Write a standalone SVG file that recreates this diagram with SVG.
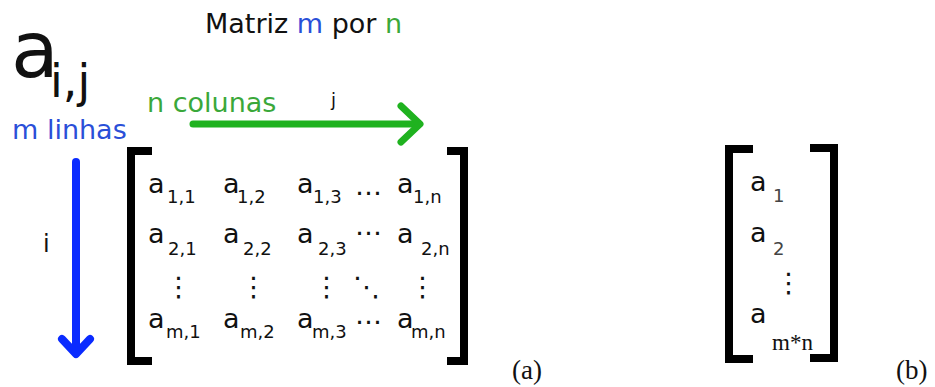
<svg xmlns="http://www.w3.org/2000/svg" width="935" height="387" viewBox="0 0 935 387">
<style>
text{font-family:"DejaVu Sans","Noto Sans",sans-serif;fill:#111}
.a{font-size:27px}
.s{font-size:18px}
.lbl{font-size:27px}
.blue{fill:#2a4fd8}
.green{fill:#3aa83a}
.br{fill:none;stroke:#000;stroke-width:8;stroke-linecap:butt;stroke-linejoin:miter}
.cap{font-family:"Liberation Serif","Times New Roman",serif;font-size:27px}
.serif{font-family:"Liberation Serif","Times New Roman",serif;font-size:23px}
</style>
<rect width="935" height="387" fill="#fff"/>
<g id="title">
<text class="lbl" x="205" y="33">Matriz <tspan class="blue">m</tspan> por <tspan class="green">n</tspan></text>
</g>
<g id="aij">
<text x="11" y="77" font-size="78">a<tspan x="50" y="97" font-size="46">i,j</tspan></text>
</g>
<g id="m-linhas"><text class="lbl blue" x="12" y="139">m linhas</text></g>
<g id="n-colunas"><text class="lbl green" x="147" y="112">n colunas</text></g>
<g id="label-j"><text x="331" y="106" font-size="18">j</text></g>
<g id="label-i"><text x="43" y="252" font-size="24">i</text></g>
<g id="connectors">
<g fill="none" stroke="#1fb21f" stroke-width="7" stroke-linecap="round" stroke-linejoin="round">
<line x1="193" y1="124" x2="418" y2="124"/>
<polyline points="401,106 420,124 401,142"/>
</g>
<g fill="none" stroke="#0a2bff" stroke-width="8" stroke-linecap="round" stroke-linejoin="round">
<line x1="76" y1="162" x2="76" y2="352"/>
<polyline points="62,339 76,354 90,339"/>
</g>
</g>
<g id="matrix">
<path class="br" d="M152,151 H131 V361 H152"/>
<path class="br" d="M447,151 H464 V361 H447"/>
<text class="a" x="148" y="193">a</text><text class="s" x="167" y="203">1,1</text>
<text class="a" x="223" y="193">a</text><text class="s" x="237" y="203">1,2</text>
<text class="a" x="297" y="193">a</text><text class="s" x="313" y="203">1,3</text>
<text class="a" x="355" y="195">…</text>
<text class="a" x="397" y="193">a</text><text class="s" x="413" y="203">1,n</text>

<text class="a" x="148" y="243">a</text><text class="s" x="168" y="255">2,1</text>
<text class="a" x="223" y="243">a</text><text class="s" x="243" y="255">2,2</text>
<text class="a" x="297" y="243">a</text><text class="s" x="318" y="255">2,3</text>
<text class="a" x="355" y="235">…</text>
<text class="a" x="397" y="243">a</text><text class="s" x="421" y="255">2,n</text>

<text class="a" x="165" y="296">⋮</text>
<text class="a" x="240" y="296">⋮</text>
<text class="a" x="313" y="296">⋮</text>
<text class="a" x="353" y="296">⋱</text>
<text class="a" x="409" y="296">⋮</text>

<text class="a" x="148" y="328">a</text><text class="s" x="166" y="338">m,1</text>
<text class="a" x="223" y="328">a</text><text class="s" x="240" y="338">m,2</text>
<text class="a" x="297" y="328">a</text><text class="s" x="312" y="338">m,3</text>
<text class="a" x="355" y="324">…</text>
<text class="a" x="397" y="328">a</text><text class="s" x="411" y="338">m,n</text>
</g>
<g id="vector">
<path class="br" d="M753,149 H729 V359 H753"/>
<path class="br" d="M810,148 H834 V358 H810"/>
<text class="a" x="750" y="191">a</text><text class="s" x="773" y="202" style="fill:#444">1</text>
<text class="a" x="750" y="242">a</text><text class="s" x="773" y="255" style="fill:#444">2</text>
<text class="a" x="775" y="292">⋮</text>
<text class="a" x="750" y="323">a</text>
<text class="serif" x="772" y="350">m*n</text>
</g>
<g id="caption-a"><text class="cap" x="512" y="379">(a)</text></g>
<g id="caption-b"><text class="cap" x="896" y="379">(b)</text></g>
</svg>
